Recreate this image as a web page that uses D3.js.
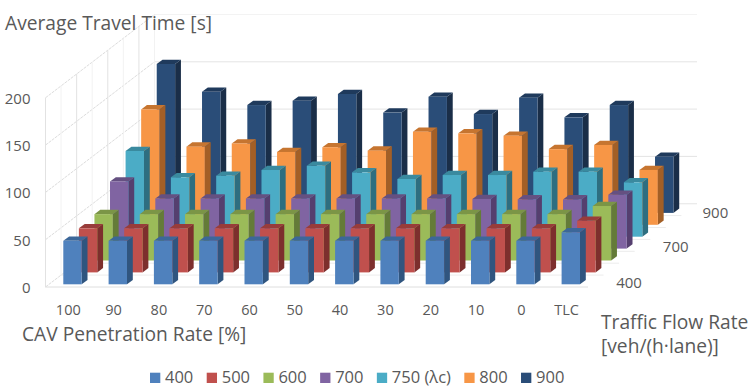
<!DOCTYPE html>
<html>
<head>
<meta charset="utf-8">
<script src="https://cdnjs.cloudflare.com/ajax/libs/d3/7.8.5/d3.min.js"></script>
<style>
  html, body { margin: 0; padding: 0; background: #fff; }
  svg { display: block; font-family: "Open Sans", sans-serif; }
</style>
</head>
<body>
<div id="chart"></div>
<script>
// values
const categories = ["100", "90", "80", "70", "60", "50", "40", "30", "20", "10", "0", "TLC"];
const seriesNames = ["400", "500", "600", "700", "750 (λc)", "800", "900"];
const depthTicks = ["400", "700", "900"];
const valueTicks = [0, 50, 100, 150, 200];

const values400 = [46, 46, 46, 46, 46, 46, 46, 46, 46, 46, 46, 55];
const values500 = [46.6, 46.6, 46.6, 46.6, 46.6, 46.6, 46.6, 46.6, 46.6, 46.6, 46.6, 54.6];
const values600 = [49, 49, 49, 49, 49, 49, 49, 49, 49, 49, 49, 57.6];
const values700 = [71, 53, 53, 53, 53, 53, 53, 53, 52.5, 52, 52, 57];
const values750 = [90.6, 62.8, 64.5, 70.5, 75, 68, 61, 65.2, 65.2, 68.7, 68.7, 57.5];
const values800 = [122, 82.6, 86, 77, 82, 78.4, 98.4, 96.7, 94.2, 80, 84.4, 58];
const values900 = [157.4, 128, 114, 118.6, 125.7, 106, 122.8, 104.5, 121.8, 101, 114, 59.4];
const allValues = [values400, values500, values600, values700, values750, values800, values900];

// front, top, side
const frontColors = ["#4f81bd", "#c0504d", "#9bbb59", "#8064a2", "#4bacc6", "#f79646", "#2a4d78"];
const topColors = ["#3c6799", "#983c3a", "#7b9546", "#655081", "#3a8a9f", "#c67530", "#1f3a5c"];
const sideColors = ["#30557f", "#7d2f2d", "#647b38", "#553f6f", "#2e6e80", "#a35f26", "#1a2e48"];

const width = 751, height = 392;
const floorY = 287, floorLeft = 45.5, floorRight = 588;
const barW = 18.4, sideX = 5.8, sideY = 4.3;

const xScale = d3.scalePoint().domain(categories).range([63.3, 561.6]);
const depthX = d3.scaleLinear().domain([0, 7]).range([0, 109]);
const depthY = d3.scaleLinear().domain([0, 7]).range([0, -83.3]);
const zScale = d3.scaleLinear().domain([0, 200]).range([0, -189.2]);

const svg = d3.select("#chart").append("svg").attr("width", width).attr("height", height);

// --- walls and floor ---
const grid = svg.append("g").attr("fill", "none");
const backX = floorLeft + depthX(7), backY = floorY + depthY(7);

// back wall
valueTicks.forEach(v => {
  grid.append("line")
    .attr("x1", backX).attr("x2", floorRight + depthX(7))
    .attr("y1", backY + zScale(v)).attr("y2", backY + zScale(v))
    .attr("stroke", v === 200 ? "#f3f3f3" : "#e4e4e4");
});

// left wall, diagonals
valueTicks.forEach(v => {
  grid.append("line")
    .attr("x1", floorLeft).attr("x2", backX)
    .attr("y1", floorY + zScale(v)).attr("y2", backY + zScale(v))
    .attr("stroke", "#dcdcdc")
    .attr("stroke-dasharray", "3,1");
});

// left wall, verticals
d3.range(0, 8).forEach(k => {
  grid.append("line")
    .attr("x1", floorLeft + depthX(k)).attr("x2", floorLeft + depthX(k))
    .attr("y1", floorY + depthY(k)).attr("y2", floorY + depthY(k) + zScale(200))
    .attr("stroke", k % 2 ? "#f2f2f2" : "#e2e2e2");
});

// floor
d3.range(0, 8).forEach(k => {
  grid.append("line")
    .attr("x1", floorLeft + depthX(k)).attr("x2", floorRight + depthX(k))
    .attr("y1", floorY + depthY(k)).attr("y2", floorY + depthY(k))
    .attr("stroke", k === 0 ? "#dedede" : "#ececec");
});

// --- bars, back row first ---
const barBase = floorY - 2.7;
const rows = d3.range(seriesNames.length).reverse();

rows.forEach(s => {
  const row = svg.append("g").attr("class", "row");
  categories.forEach((cat, i) => {
    const v = allValues[s][i];
    const x0 = xScale(cat) + depthX(s);
    const x1 = x0 + barW;
    const yBase = barBase + depthY(s);
    const yTop = yBase + zScale(v);

    // side face
    row.append("path")
      .attr("d", `M${x1},${yTop}L${x1 + sideX},${yTop - sideY}L${x1 + sideX},${yBase - sideY}L${x1},${yBase}Z`)
      .attr("fill", sideColors[s]);
    // top face
    row.append("path")
      .attr("d", `M${x0},${yTop}L${x0 + sideX},${yTop - sideY}L${x1 + sideX},${yTop - sideY}L${x1},${yTop}Z`)
      .attr("fill", topColors[s]);
    // front face
    row.append("rect")
      .attr("x", x0).attr("y", yTop)
      .attr("width", barW).attr("height", yBase - yTop)
      .attr("fill", frontColors[s]);
  });
});

// --- labels ---
const tickColor = "#595959";

svg.append("g").selectAll("text").data(valueTicks).join("text")
  .attr("x", 30.5).attr("y", d => floorY + zScale(d) + 2)
  .attr("text-anchor", "end").attr("dominant-baseline", "middle")
  .attr("font-size", 15).attr("fill", tickColor)
  .text(d => d);

svg.append("g").selectAll("text").data(categories).join("text")
  .attr("x", d => xScale(d) + 5).attr("y", 311)
  .attr("text-anchor", "middle").attr("dominant-baseline", "middle")
  .attr("font-size", 14.5).attr("fill", tickColor)
  .text(d => d);

svg.append("g").selectAll("text").data(depthTicks).join("text")
  .attr("x", d => 629 + depthX(seriesNames.indexOf(d)) - (d === "900" ? 7 : 0))
  .attr("y", d => 284 + depthY(seriesNames.indexOf(d)) + (d === "900" ? 1 : 0))
  .attr("text-anchor", "middle").attr("dominant-baseline", "middle")
  .attr("font-size", 15).attr("fill", tickColor)
  .text(d => d);

function axisTitle(x, y, label) {
  svg.append("text").attr("x", x).attr("y", y)
    .attr("font-size", 19.2).attr("fill", tickColor)
    .text(label);
}
axisTitle(5, 30, "Average Travel Time [s]");
axisTitle(22, 341, "CAV Penetration Rate [%]");
axisTitle(601, 329, "Traffic Flow Rate");
axisTitle(601, 353, "[veh/(h·lane)]");

// --- legend ---
const legend = svg.append("g");
let legendX = 150;
seriesNames.forEach((name, s) => {
  legend.append("rect")
    .attr("x", legendX).attr("y", 372.7)
    .attr("width", 10.3).attr("height", 10.3)
    .attr("fill", frontColors[s]);
  const label = legend.append("text")
    .attr("x", legendX + 15).attr("y", 383)
    .attr("font-size", 16.5).attr("fill", tickColor)
    .text(name);
  legendX += 15 + label.node().getComputedTextLength() + 13.4;
});
</script>
</body>
</html>
